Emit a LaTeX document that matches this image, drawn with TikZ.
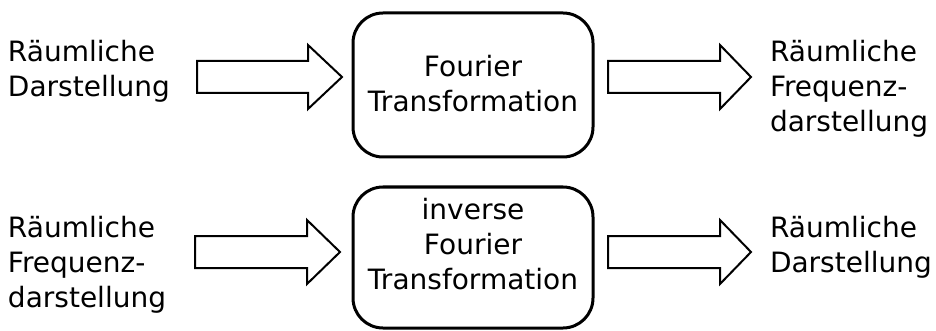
\documentclass[tikz,border=0pt]{standalone}
\usepackage{fontspec}
\setmainfont{DejaVu Sans}
\begin{document}
\begin{tikzpicture}[x=1pt,y=-1pt,
  lbl/.style={inner sep=0pt,outer sep=0pt,font=\fontsize{28}{35}\selectfont},
  procbox/.style={draw,line width=3pt,rounded corners=30pt},
  blockarrow/.style={draw,line width=2pt,line join=miter,fill=white}]
\useasboundingbox (0,0) rectangle (936,331);
% boxes
\draw[procbox] (353,13) rectangle (593,157);
\draw[procbox] (353,187) rectangle (593,328);
% text (anchor = baseline of last line)
\node[lbl,anchor=base west,align=left] (tl) at (8,97) {Räumliche\\Darstellung};
\node[lbl,anchor=base west,align=left] (tr) at (770,132) {Räumliche\\Frequenz-\\darstellung};
\node[lbl,anchor=base west,align=left] (bl) at (8,307) {Räumliche\\Frequenz-\\darstellung};
\node[lbl,anchor=base west,align=left] (br) at (770,272) {Räumliche\\Darstellung};
\node[lbl,anchor=base,align=center] (ft) at (473,112) {Fourier\\Transformation};
\node[lbl,anchor=base,align=center] (ift) at (473,289) {inverse\\Fourier\\Transformation};
% arrows
\newcommand{\blkarrow}[4]{%
  \draw[blockarrow] (#1,#4-16) -- (#2,#4-16) -- (#2,#4-32) -- (#3,#4) -- (#2,#4+32) -- (#2,#4+16) -- (#1,#4+16) -- cycle;}
\blkarrow{197}{308}{342}{77}
\blkarrow{608}{720}{751}{77}
\blkarrow{195}{307}{340}{252}
\blkarrow{608}{720}{751}{252}
\end{tikzpicture}
\end{document}
